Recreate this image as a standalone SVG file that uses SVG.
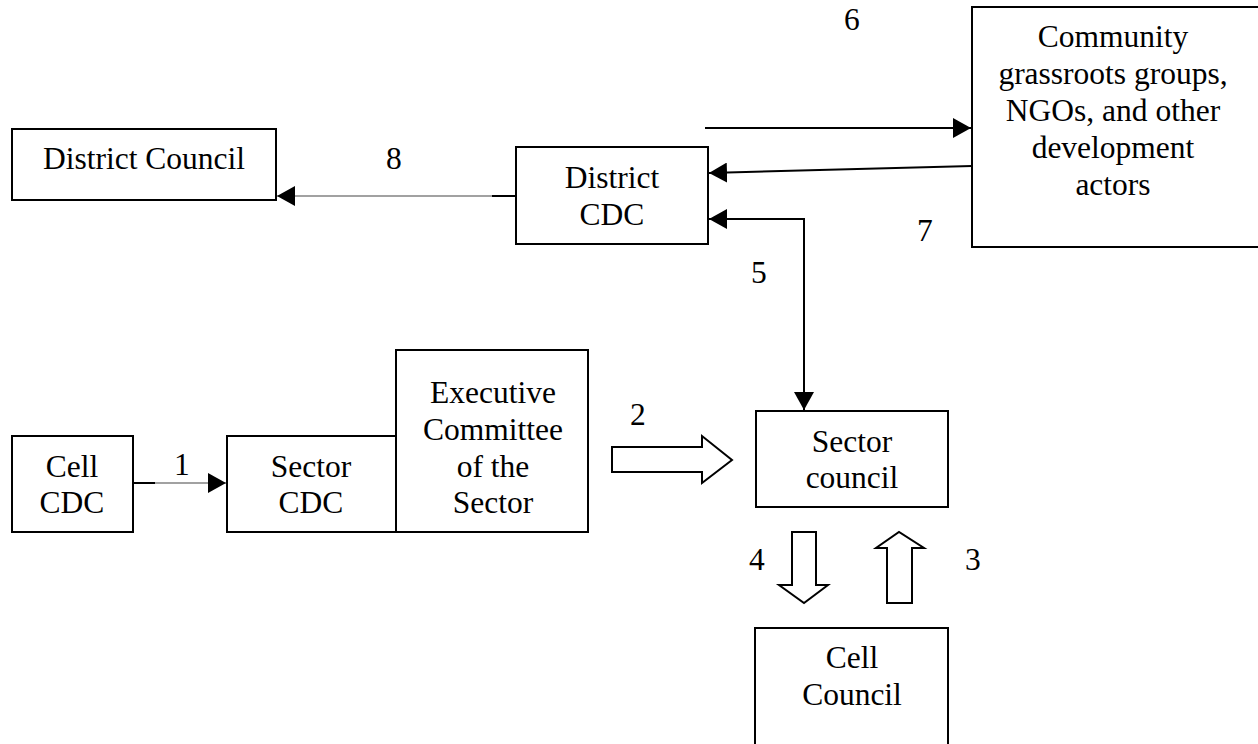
<svg xmlns="http://www.w3.org/2000/svg" width="1258" height="744" viewBox="0 0 1258 744">
<style>
.box{fill:#fff;stroke:#000;stroke-width:2}
text{font-family:'Liberation Serif','Times New Roman',Times,serif;font-size:31.5px;fill:#000}
.t{text-anchor:middle}
.ln{stroke:#000;stroke-width:2;fill:none}
.thin{stroke:#444;stroke-width:1.2;fill:none}
.blk{fill:#fff;stroke:#000;stroke-width:2;stroke-linejoin:miter}
</style>
<defs>
<marker id="ah" markerWidth="18" markerHeight="20" refX="18" refY="10" orient="auto" markerUnits="userSpaceOnUse">
<path d="M0,0 L18,10 L0,20 Z" fill="#000"/>
</marker>
</defs>
<rect width="1258" height="744" fill="#fff"/>
<g id="connectors">
<line class="thin" x1="492" y1="196" x2="277" y2="196" marker-end="url(#ah)"/>
<line class="ln" x1="516" y1="196" x2="492" y2="196"/>
<line class="ln" x1="705" y1="128" x2="971" y2="128" marker-end="url(#ah)"/>
<line class="ln" x1="972" y1="166" x2="709" y2="173" marker-end="url(#ah)"/>
<polyline class="ln" points="804,400 804,219 709,219" marker-end="url(#ah)"/>
<line class="ln" x1="804" y1="219" x2="804" y2="410" marker-end="url(#ah)"/>
<line class="ln" x1="133" y1="483" x2="155" y2="483"/>
<line class="thin" x1="155" y1="483" x2="226" y2="483" marker-end="url(#ah)"/>
<polygon class="blk" points="612,447 702,447 702,436 732,460 702,483 702,472 612,472"/>
<polygon class="blk" points="792,532 816,532 816,585 828,585 804,603 779,585 792,585"/>
<polygon class="blk" points="887,603 912,603 912,548 924,548 899,532 876,548 887,548"/>
<text x="386" y="169">8</text>
<text x="844" y="30">6</text>
<text x="917" y="241">7</text>
<text x="751" y="283">5</text>
<text x="174" y="475">1</text>
<text x="630" y="425">2</text>
<text x="749" y="570">4</text>
<text x="965" y="570">3</text>
</g>
<g id="district-council">
<rect class="box" x="12" y="129" width="264" height="71"/>
<text class="t" x="144" y="169">District Council</text>
</g>
<g id="district-cdc">
<rect class="box" x="516" y="147" width="192" height="97"/>
<text class="t" x="612" y="188">District</text>
<text class="t" x="612" y="225">CDC</text>
</g>
<g id="community">
<rect class="box" x="972" y="7" width="300" height="240"/>
<text class="t" x="1113" y="47">Community</text>
<text class="t" x="1113" y="84">grassroots groups,</text>
<text class="t" x="1113" y="121">NGOs, and other</text>
<text class="t" x="1113" y="158">development</text>
<text class="t" x="1113" y="195">actors</text>
</g>
<g id="cell-cdc">
<rect class="box" x="12" y="436" width="121" height="96"/>
<text class="t" x="72" y="477">Cell</text>
<text class="t" x="72" y="513">CDC</text>
</g>
<g id="sector-cdc">
<rect class="box" x="227" y="436" width="169" height="96"/>
<text class="t" x="311" y="477">Sector</text>
<text class="t" x="311" y="513">CDC</text>
</g>
<g id="executive-committee">
<rect class="box" x="396" y="350" width="192" height="182"/>
<text class="t" x="493" y="403">Executive</text>
<text class="t" x="493" y="440">Committee</text>
<text class="t" x="493" y="477">of the</text>
<text class="t" x="493" y="513">Sector</text>
</g>
<g id="sector-council">
<rect class="box" x="756" y="411" width="192" height="96"/>
<text class="t" x="852" y="452">Sector</text>
<text class="t" x="852" y="488">council</text>
</g>
<g id="cell-council">
<rect class="box" x="755" y="628" width="193" height="130"/>
<text class="t" x="852" y="668">Cell</text>
<text class="t" x="852" y="705">Council</text>
</g>
</svg>
